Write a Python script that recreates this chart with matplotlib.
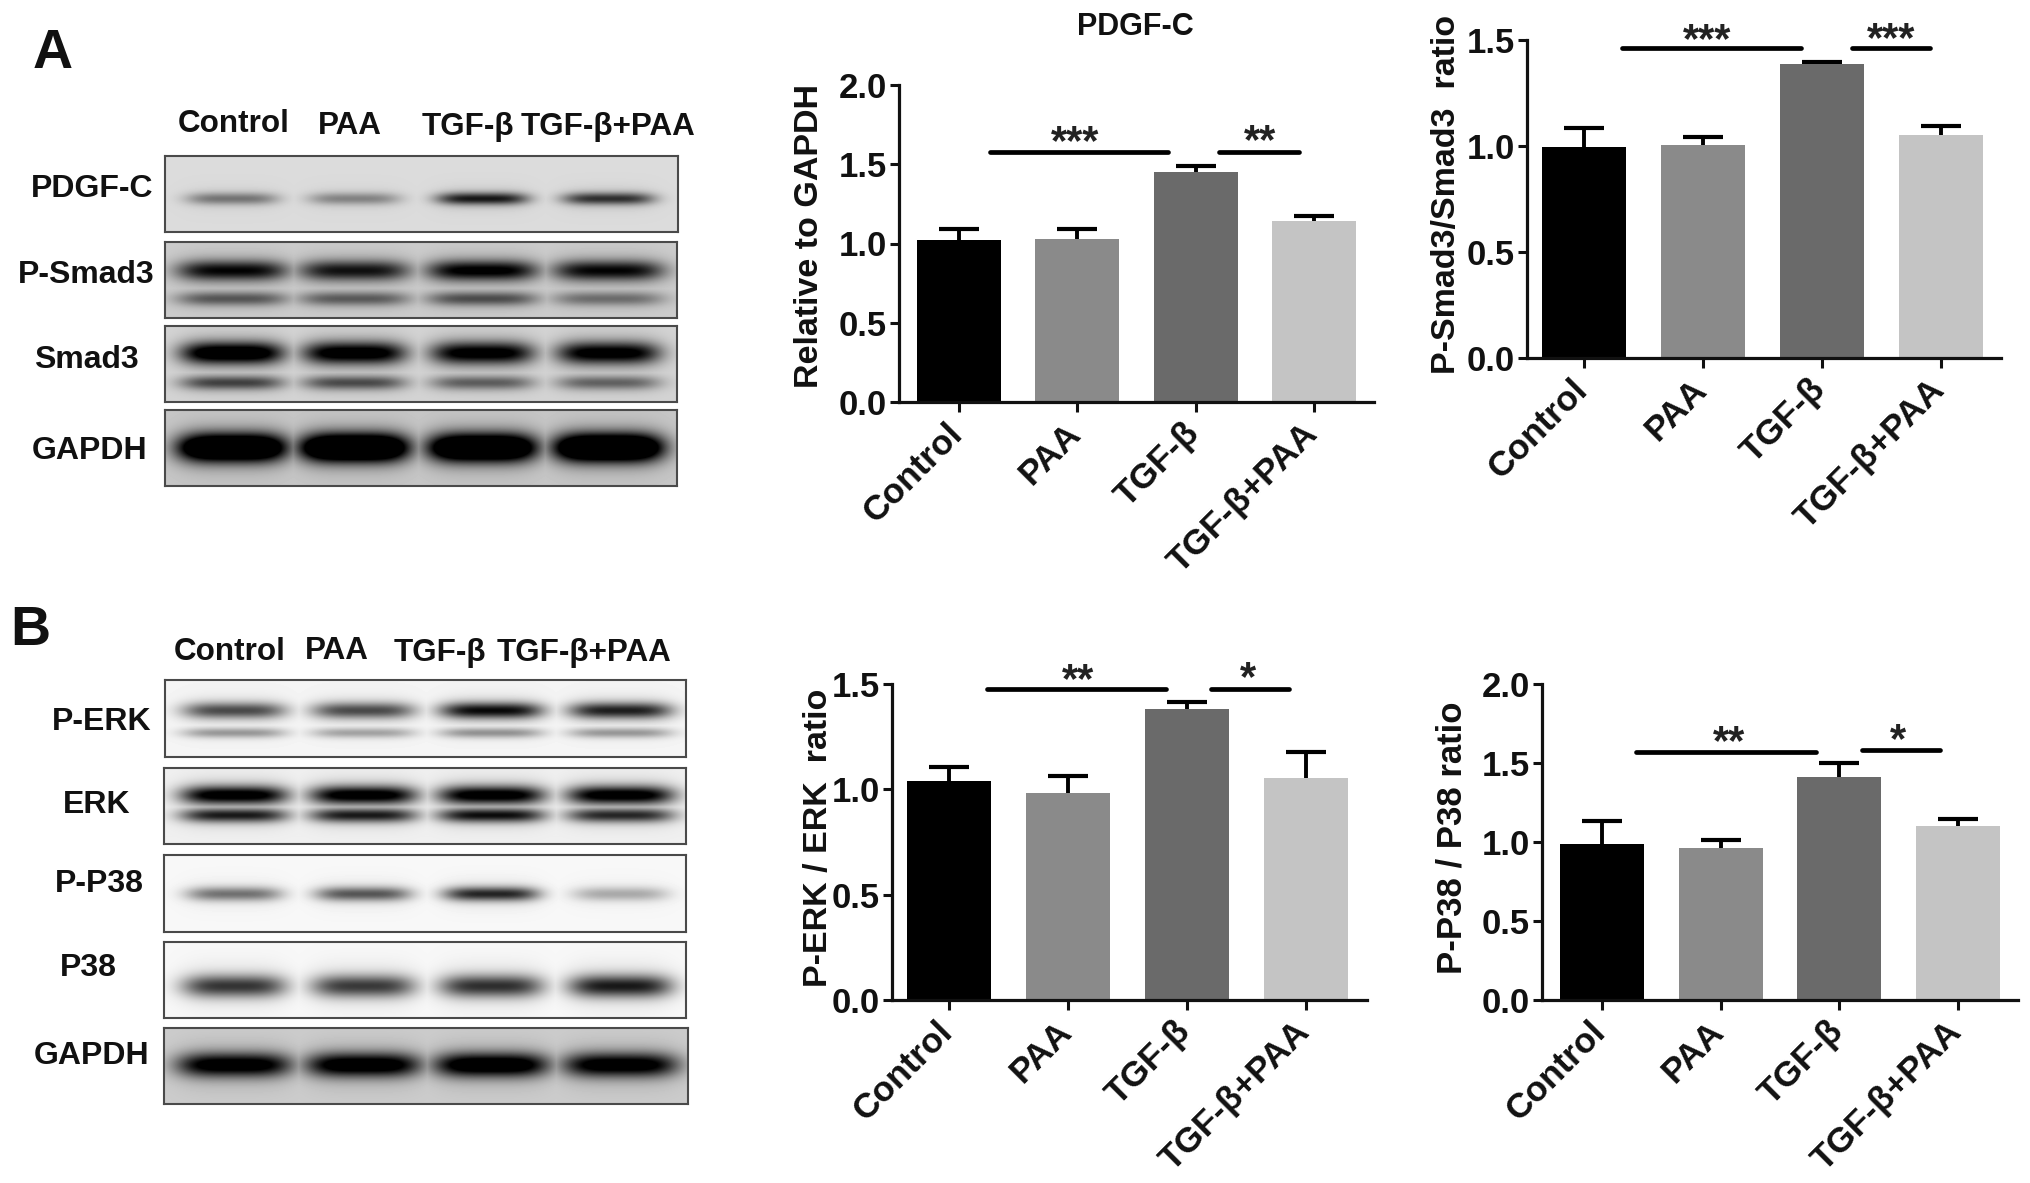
# -*- coding: utf-8 -*-
import numpy as np
import matplotlib
matplotlib.use('Agg')
import matplotlib.pyplot as plt

plt.rcParams['font.family'] = ['Liberation Sans', 'DejaVu Sans']
plt.rcParams['font.weight'] = 'bold'

W, H = 2031, 1183
INK = '#111111'

# ---- bar data ----
groups = ['Control', 'PAA', 'TGF-β', 'TGF-β+PAA']
bar_colors = ['#000000', '#8a8a8a', '#6a6a6a', '#c4c4c4']

pdgfc_vals = [1.02, 1.03, 1.45, 1.14]
pdgfc_tops = [1.09, 1.09, 1.49, 1.175]
smad_vals = [0.997, 1.005, 1.386, 1.052]
smad_tops = [1.087, 1.042, 1.396, 1.095]
erk_vals = [1.039, 0.983, 1.383, 1.055]
erk_tops = [1.108, 1.062, 1.413, 1.178]
p38_vals = [0.987, 0.965, 1.414, 1.103]
p38_tops = [1.136, 1.011, 1.501, 1.147]

pdgfc_stars = ['***', '**']
smad_stars = ['***', '***']
erk_stars = ['**', '*']
p38_stars = ['**', '*']

pdgfc_sig = [1.58, 1.58]
smad_sig = [1.464, 1.464]
erk_sig = [1.475, 1.475]
p38_sig = [1.571, 1.582]

# ---- blot band strengths, one value per lane ----
pdgfc_band = [0.42, 0.36, 0.80, 0.70]
psmad3_upper = [0.88, 0.82, 0.95, 0.88]
psmad3_lower = [0.52, 0.50, 0.56, 0.42]
smad3_upper = [1.15, 1.05, 1.0, 1.0]
smad3_lower = [0.62, 0.58, 0.50, 0.48]
gapdh_a_band = [1.7, 1.8, 1.7, 1.8]
perk_upper = [0.62, 0.62, 0.86, 0.78]
perk_lower = [0.34, 0.30, 0.36, 0.34]
erk_upper = [1.0, 1.0, 1.0, 1.0]
erk_lower = [0.80, 0.80, 0.85, 0.75]
pp38_band = [0.48, 0.58, 0.76, 0.28]
p38_band = [0.70, 0.68, 0.72, 0.80]
gapdh_b_band = [1.05, 1.1, 1.15, 1.05]


def px_axes(fig, left, top, right, bottom, **kw):
    return fig.add_axes([left / W, 1 - bottom / H, (right - left) / W, (bottom - top) / H], **kw)


def draw_blot(fig, box, lanes, half_width, bg, bands):
    """box = left, top, right, bottom in pixels; bands = (y fraction, y half size, strengths)"""
    left, top, right, bottom = box
    xx, yy = np.meshgrid(np.arange(left, right), np.arange(top, bottom))
    dark = np.zeros(xx.shape)
    for frac, thick, strengths in bands:
        yc = top + frac * (bottom - top)
        for c, s in zip(lanes, strengths):
            px = np.exp(-((xx - c) / half_width) ** 4)
            core = np.exp(-((yy - yc) / thick) ** 2)
            halo = np.exp(-((yy - yc) / (thick * 2.0)) ** 2)
            dark = np.maximum(dark, s * px * core + min(s, 1) * 0.13 * px * halo)
    img = bg * (1 - np.clip(dark, 0, 1))
    ax = px_axes(fig, left, top, right, bottom)
    ax.imshow(img, cmap='gray', vmin=0, vmax=1, aspect='auto', interpolation='bilinear')
    ax.set_xticks([])
    ax.set_yticks([])
    for sp in ax.spines.values():
        sp.set_linewidth(1.5)
        sp.set_color('#4a4a4a')


def draw_bars(fig, box, c0, step, ymax, vals, tops, sig, sig_spans, ticks):
    left, top, right, bottom = box
    ax = px_axes(fig, left, top, right, bottom)
    ax.patch.set_alpha(0)
    x = np.arange(len(vals))
    ax.bar(x, vals, width=84 / step, color=bar_colors, zorder=2)
    errs = np.array(tops) - np.array(vals)
    _, caps, _ = ax.errorbar(x, vals, yerr=[np.zeros(len(vals)), errs], fmt='none', ecolor='black',
                             elinewidth=2.8, capsize=14.5, capthick=3, zorder=1)
    caps[0].set_visible(False)  # upper bars only
    ax.set_xlim((left - c0) / step, (right - c0) / step)
    ax.set_ylim(0, ymax)
    for lvl, (a, b) in zip(sig, sig_spans):
        ax.plot([a, b], [lvl, lvl], color='black', lw=3.4, solid_capstyle='round', zorder=3)
    ax.set_xticks(x)
    ax.set_xticklabels([])
    # the labels sit left of their ticks in the original, a tick label can't be offset like that
    for i, name in zip(x, groups):
        ax.annotate(name, xy=(i, 0), xycoords=('data', 'axes fraction'), xytext=(-9.5, -10.5),
                    textcoords='offset points', rotation=45, ha='right', va='top',
                    rotation_mode='anchor', fontsize=25.4, fontweight='bold', color=INK,
                    annotation_clip=False)
    ax.set_yticks(ticks)
    ax.set_yticklabels(['%.1f' % t for t in ticks], fontsize=25, fontweight='bold', color=INK)
    ax.tick_params(axis='x', length=7, width=2.2, color='#111111')
    ax.tick_params(axis='y', length=6.5, width=2.2, pad=2, color='#111111')
    for name in ['top', 'right']:
        ax.spines[name].set_visible(False)
    for name in ['left', 'bottom']:
        ax.spines[name].set_linewidth(2.3)
        ax.spines[name].set_color('#111111')
    return ax


fig = plt.figure(figsize=(W / 100, H / 100), dpi=100, facecolor='white')

# ---- blots, panel A ----
lanes_a = [232, 354, 482, 608]
draw_blot(fig, (165, 156, 678, 232), lanes_a, 46, 0.86, [(0.555, 6, pdgfc_band)])
draw_blot(fig, (165, 242, 677, 318), lanes_a, 56, 0.80, [(0.37, 10, psmad3_upper), (0.74, 7, psmad3_lower)])
draw_blot(fig, (165, 326, 677, 402), lanes_a, 52, 0.83, [(0.35, 11, smad3_upper), (0.74, 7, smad3_lower)])
draw_blot(fig, (165, 410, 677, 486), lanes_a, 55, 0.78, [(0.49, 14, gapdh_a_band)])

# ---- blots, panel B ----
lanes_b = [234, 363, 491, 620]
draw_blot(fig, (165, 680, 686, 757), lanes_b, 52, 0.96, [(0.39, 8, perk_upper), (0.68, 5, perk_lower)])
draw_blot(fig, (164, 768, 686, 844), lanes_b, 54, 0.94, [(0.36, 9, erk_upper), (0.62, 7, erk_lower)])
draw_blot(fig, (164, 855, 686, 932), lanes_b, 48, 0.97, [(0.50, 7, pp38_band)])
draw_blot(fig, (164, 942, 686, 1018), lanes_b, 52, 0.97, [(0.575, 11, p38_band)])
draw_blot(fig, (164, 1028, 688, 1104), lanes_b, 58, 0.80, [(0.48, 12, gapdh_b_band)])

# ---- bar panels ----
draw_bars(fig, (899, 85, 1374, 402), 959, 118.3, 2.0, pdgfc_vals, pdgfc_tops, pdgfc_sig,
          [(0.26, 1.77), (2.20, 2.87)], [0, 0.5, 1.0, 1.5, 2.0])
draw_bars(fig, (1527, 40, 2001, 358), 1584, 119, 1.5, smad_vals, smad_tops, smad_sig,
          [(0.32, 1.82), (2.25, 2.91)], [0, 0.5, 1.0, 1.5])
draw_bars(fig, (892, 684, 1367, 1000), 949, 119, 1.5, erk_vals, erk_tops, erk_sig,
          [(0.32, 1.82), (2.20, 2.86)], [0, 0.5, 1.0, 1.5])
draw_bars(fig, (1542, 684, 2018, 1000), 1602, 118.7, 2.0, p38_vals, p38_tops, p38_sig,
          [(0.29, 1.80), (2.19, 2.85)], [0, 0.5, 1.0, 1.5, 2.0])

# ---- overlay for the loose text, pixel coordinates ----
over = fig.add_axes([0, 0, 1, 1], facecolor='none')
over.set_xlim(0, W)
over.set_ylim(H, 0)
over.axis('off')


def label(x, y, s, size=23, **kw):
    over.text(x, y, s, fontsize=size, fontweight='bold', color=INK, ha='center', va='center', **kw)


def stars(x, y, s):
    # asterisk sits high in the em box, so anchor the baseline below its centre
    over.text(x, y + 20, s, fontsize=30, fontweight='bold', color='#222222', ha='center', va='baseline')


label(53, 54, 'A', size=40)
label(30, 631, 'B', size=40)

for x, y, s in zip([234, 350, 468, 608], [124, 126, 127, 127], groups):
    label(x, y, s, size=22.6)
for x, y, s in zip([230, 337, 440, 584], [652, 651, 653, 653], groups):
    label(x, y, s, size=22.6)

for x, y, s in zip([92, 86, 86, 90], [189, 275, 360, 451], ['PDGF-C', 'P-Smad3', 'Smad3', 'GAPDH']):
    label(x, y, s)
for x, y, s in zip([102, 97, 99, 88, 92], [722, 805, 884, 968, 1056],
                   ['P-ERK', 'ERK', 'P-P38', 'P38', 'GAPDH']):
    label(x, y, s)

label(1135, 27, 'PDGF-C', size=22)

label(810, 236, 'Relative to GAPDH', size=24.5, rotation=90)
label(1447, 194, 'P-Smad3/Smad3  ratio', size=24.5, rotation=90)
label(818, 838, 'P-ERK / ERK  ratio', size=24.5, rotation=90)
label(1452, 838, 'P-P38 / P38 ratio', size=25, rotation=90)

for (x, y), s in zip([(1075, 134), (1260, 133)], pdgfc_stars):
    stars(x, y, s)
for (x, y), s in zip([(1707, 32), (1891, 31)], smad_stars):
    stars(x, y, s)
for (x, y), s in zip([(1078, 672), (1248, 670)], erk_stars):
    stars(x, y, s)
for (x, y), s in zip([(1729, 734), (1898, 732)], p38_stars):
    stars(x, y, s)

fig.savefig('out.png', dpi=100, facecolor='white')
